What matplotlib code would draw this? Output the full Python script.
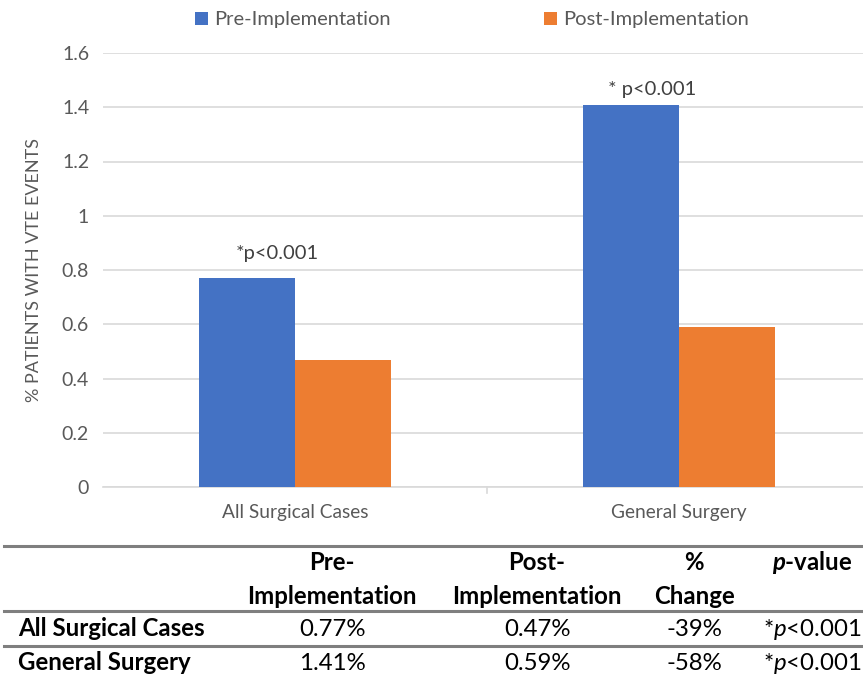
import matplotlib
matplotlib.use("Agg")
import matplotlib.pyplot as plt
from matplotlib.lines import Line2D
import numpy as np

plt.rcParams['font.family'] = ['Lato', 'DejaVu Sans']
plt.rcParams['mathtext.fontset'] = 'custom'
plt.rcParams['mathtext.rm'] = 'Lato'
plt.rcParams['mathtext.it'] = 'Lato:italic'
plt.rcParams['mathtext.bf'] = 'Lato:bold'
plt.rcParams['mathtext.bfit'] = 'Lato:bold:italic'

# data
groups = ["All Surgical Cases", "General Surgery"]
pre = [0.77, 1.41]   # % patients with VTE events, pre-implementation
post = [0.47, 0.59]  # post-implementation
sig = ["*p<0.001", "* p<0.001"]
pvals = ["<0.001", "<0.001"]
yticks = [0, 0.2, 0.4, 0.6, 0.8, 1, 1.2, 1.4, 1.6]

blue = "#4472C4"
orange = "#ED7D31"
grid = "#D9D9D9"
tick_col = "#595959"

fig = plt.figure(figsize=(8.63, 6.75), dpi=100)
ax = fig.add_axes([103/863, 1-487/675, 768/863, 434/675])

x = np.arange(len(groups)) + 0.5
w = 0.25
b1 = ax.bar(x - w/2, pre, w, color=blue, label="Pre-Implementation", zorder=3)
b2 = ax.bar(x + w/2, post, w, color=orange, label="Post-Implementation", zorder=3)

# significance labels above the pre bars
dx = [0.078, 0.055]
dy = [0.09, 0.055]
for xi, v, s, ox, oy in zip(x, pre, sig, dx, dy):
    ax.text(xi - w/2 + ox, v + oy, s, ha="center", va="center", fontsize=14.5, color="#404040")

ax.set_xlim(0, 2)
ax.set_ylim(0, 1.6)
ax.set_yticks(yticks)
ax.set_yticklabels([f"{t:g}" for t in yticks])
ax.set_xticks(x)
ax.set_xticklabels(groups)
ax.tick_params(axis="both", length=0, labelsize=14, labelcolor=tick_col, pad=10)
ax.tick_params(axis="x", pad=12, labelsize=13.8)
ax.yaxis.grid(True, color=grid, lw=1.2, zorder=0)
for s in ["top", "right", "left"]:
    ax.spines[s].set_visible(False)
ax.spines["bottom"].set_color(grid)
ax.spines["bottom"].set_linewidth(1.2)
# category separator tick
ax.plot([1, 1], [0, -0.022], color=grid, lw=1.2, clip_on=False)
ax.set_ylabel("% PATIENTS WITH VTE EVENTS", fontsize=13, color=tick_col, labelpad=14)

fig.legend(handles=[b1, b2], loc="center", bbox_to_anchor=(472/863, 1-20/675), ncol=2,
           frameon=False, fontsize=14.5, handlelength=0.65, handleheight=0.65,
           handletextpad=0.3, columnspacing=7.6, labelcolor=tick_col)

# summary table under the chart
def fx(px):
    return px / 863

def fy(py):
    return 1 - py / 675

for py in [546, 611, 646]:
    fig.add_artist(Line2D([fx(4), fx(863)], [fy(py), fy(py)], color="#7F7F7F", lw=2.2))

tfs = 17.3
cols = [332, 537, 694, 812]
hdr = dict(ha="center", va="center", fontsize=tfs, weight="bold", color="black")
fig.text(fx(cols[0]), fy(563), "Pre-", **hdr)
fig.text(fx(cols[0]), fy(597), "Implementation", **hdr)
fig.text(fx(cols[1]), fy(563), "Post-", **hdr)
fig.text(fx(cols[1]), fy(597), "Implementation", **hdr)
fig.text(fx(cols[2]), fy(563), "%", **hdr)
fig.text(fx(cols[2]), fy(597), "Change", **hdr)
fig.text(fx(cols[3]), fy(563), r"$\mathbfit{p}$-value", **hdr)

row_y = [629, 663]
for g, a, b, p, ry in zip(groups, pre, post, pvals, row_y):
    change = round((b - a) / a * 100)
    fig.text(fx(18), fy(ry), g, ha="left", va="center", fontsize=tfs, weight="bold")
    fig.text(fx(cols[0]), fy(ry), f"{a:.2f}%", ha="center", va="center", fontsize=tfs)
    fig.text(fx(cols[1]), fy(ry), f"{b:.2f}%", ha="center", va="center", fontsize=tfs)
    fig.text(fx(cols[2]), fy(ry), f"{change}%", ha="center", va="center", fontsize=tfs)
    fig.text(fx(cols[3]), fy(ry), r"*$\it{p}$" + p, ha="center", va="center", fontsize=tfs)

fig.savefig("out.png", dpi=100)
